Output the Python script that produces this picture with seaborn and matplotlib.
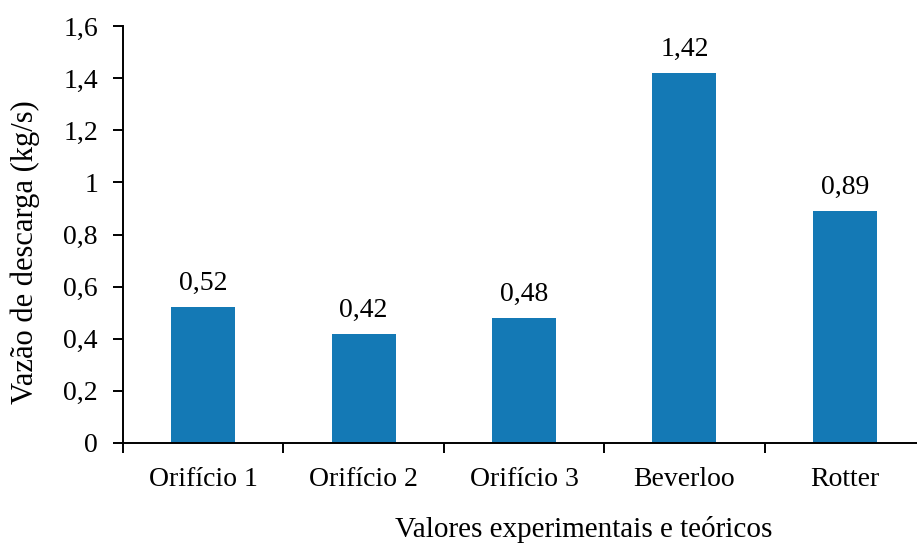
import matplotlib
matplotlib.use("Agg")
import matplotlib.pyplot as plt
import seaborn as sns
import pandas as pd
from matplotlib.ticker import FuncFormatter, FixedLocator

categories = ["Orifício 1", "Orifício 2", "Orifício 3", "Beverloo", "Rotter"]
values = [0.52, 0.42, 0.48, 1.42, 0.89]
value_labels = ["0,52", "0,42", "0,48", "1,42", "0,89"]
yticks = [0, 0.2, 0.4, 0.6, 0.8, 1.0, 1.2, 1.4, 1.6]

sns.set_theme(style="white")
plt.rcParams['font.family'] = ['Liberation Serif', 'DejaVu Serif']
plt.rcParams['text.color'] = 'black'
plt.rcParams['axes.labelcolor'] = 'black'
plt.rcParams['xtick.color'] = 'black'
plt.rcParams['ytick.color'] = 'black'

df = pd.DataFrame({"cat": categories, "val": values})

fig = plt.figure(figsize=(9.17, 5.44), dpi=100)
ax = fig.add_axes([123/917, 101/544, 802/917, 417/544])

sns.barplot(data=df, x="cat", y="val", ax=ax, color="#1479b5", width=0.4,
            saturation=1, edgecolor="none")

ax.set_xlim(-0.5, len(categories) - 0.5)
ax.set_ylim(0, 1.6)
ax.yaxis.set_major_locator(FixedLocator(yticks))
ax.yaxis.set_major_formatter(FuncFormatter(lambda v, p: f"{v:g}".replace(".", ",")))

for s in ["top", "right"]:
    ax.spines[s].set_visible(False)
for s in ["left", "bottom"]:
    ax.spines[s].set_color("black")
    ax.spines[s].set_linewidth(1.4)

ax.tick_params(axis="y", which="major", left=True, direction="out", length=7,
               width=1.4, labelsize=20, pad=11)
ax.tick_params(axis="x", which="major", bottom=False, labelsize=20, pad=11)
ax.set_xticks(range(len(categories)))
ax.set_xticklabels(categories)
ax.set_xticks([i - 0.5 for i in range(len(categories) + 1)], minor=True)
ax.tick_params(axis="x", which="minor", bottom=True, direction="out", length=7,
               width=1.4)

ax.bar_label(ax.containers[0], labels=value_labels, padding=8, fontsize=20)

ax.set_ylabel("Vazão de descarga (kg/s)", fontsize=22)
ax.set_xlabel("Valores experimentais e teóricos", fontsize=21)
ax.yaxis.set_label_coords(-0.104, 0.458)
ax.xaxis.set_label_coords(0.575, -0.175)

fig.savefig("out.png", dpi=100)
